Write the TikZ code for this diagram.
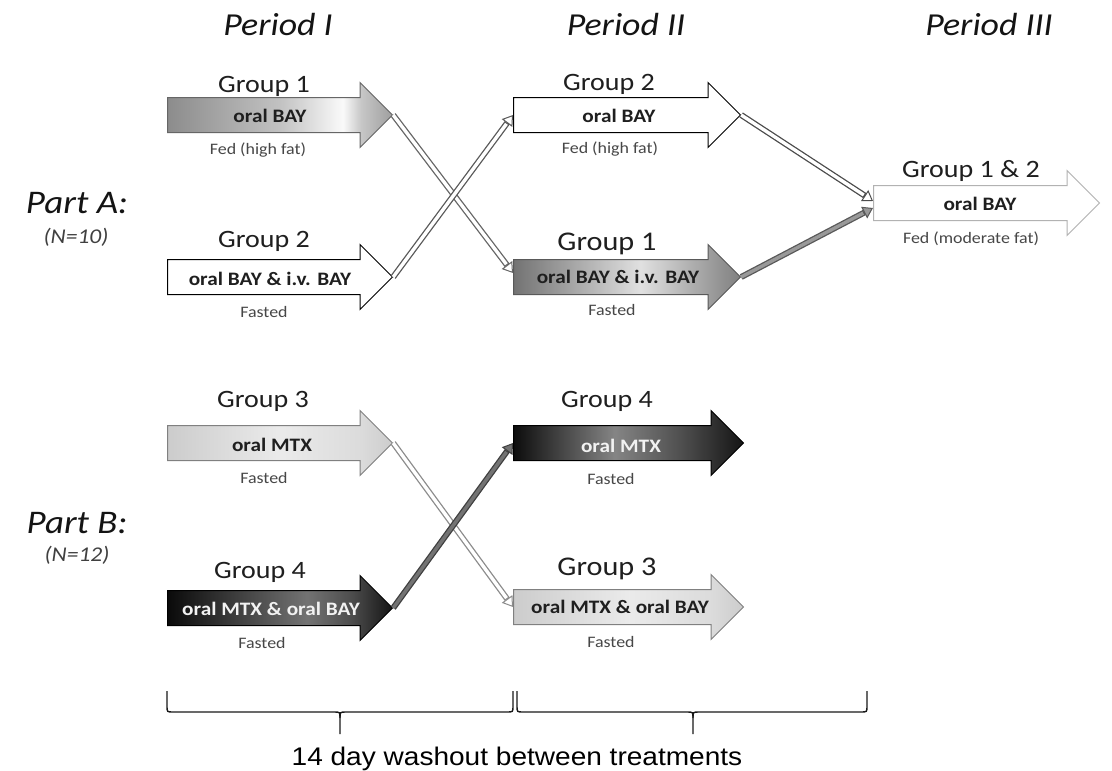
\documentclass[tikz,border=0pt]{standalone}
\usepackage{fontspec}
\usetikzlibrary{shapes.arrows,arrows.meta}
\newfontfamily\calfont{Carlito}[FakeStretch=1.12]
\newfontfamily\arialfont{Liberation Sans}[FakeStretch=1.1]

\pgfdeclarehorizontalshading{shAone}{100bp}{rgb(0bp)=(0.55,0.55,0.55); rgb(25bp)=(0.55,0.55,0.55); rgb(50bp)=(0.76,0.76,0.76); rgb(64bp)=(0.98,0.98,0.98); rgb(68bp)=(0.78,0.78,0.78); rgb(75bp)=(0.62,0.62,0.62); rgb(100bp)=(0.62,0.62,0.62)}
\pgfdeclarehorizontalshading{shBone}{100bp}{rgb(0bp)=(0.45,0.45,0.45); rgb(25bp)=(0.45,0.45,0.45); rgb(53bp)=(0.88,0.88,0.88); rgb(68bp)=(0.62,0.62,0.62); rgb(75bp)=(0.5,0.5,0.5); rgb(100bp)=(0.5,0.5,0.5)}
\pgfdeclarehorizontalshading{shLight}{100bp}{rgb(0bp)=(0.8,0.8,0.8); rgb(25bp)=(0.8,0.8,0.8); rgb(50bp)=(0.92,0.92,0.92); rgb(68bp)=(0.86,0.86,0.86); rgb(75bp)=(0.8,0.8,0.8); rgb(100bp)=(0.8,0.8,0.8)}
\pgfdeclarehorizontalshading{shDone}{100bp}{rgb(0bp)=(0.04,0.04,0.04); rgb(25bp)=(0.04,0.04,0.04); rgb(56bp)=(0.45,0.45,0.45); rgb(66bp)=(0.3,0.3,0.3); rgb(75bp)=(0.08,0.08,0.08); rgb(100bp)=(0.08,0.08,0.08)}
\pgfdeclarehorizontalshading{shDtwo}{100bp}{rgb(0bp)=(0.05,0.05,0.05); rgb(25bp)=(0.05,0.05,0.05); rgb(47bp)=(0.52,0.52,0.52); rgb(62bp)=(0.3,0.3,0.3); rgb(75bp)=(0.08,0.08,0.08); rgb(100bp)=(0.08,0.08,0.08)}

\newcommand\myconn[4]{%
  \draw[line width=6pt, draw=#4, -{Triangle[length=10pt,width=13pt,line width'=1pt,fill=#3,color=#4]}] (#1) -- (#2);
  \draw[line width=3.4pt, draw=#3, shorten >=11pt] (#1) -- (#2);
}

\tikzset{
  blk/.style={single arrow, single arrow head extend=15pt, inner xsep=0pt, inner ysep=17pt,
    minimum height=225pt, anchor=tail, line width=1pt},
  grp/.style={anchor=base, inner sep=0pt, text=black!88, font=\calfont\fontsize{25}{30}\selectfont},
  grpbig/.style={grp, font=\calfont\fontsize{27}{32}\selectfont},
  intx/.style={anchor=base, inner sep=0pt, text=black!88, font=\calfont\bfseries\fontsize{19}{22}\selectfont},
  subl/.style={anchor=base, inner sep=0pt, text=black!72, font=\calfont\fontsize{16}{19}\selectfont},
  per/.style={anchor=base, inner sep=0pt, text=black!92, font=\calfont\itshape\fontsize{32}{38}\selectfont},
  part/.style={anchor=base, inner sep=0pt, text=black!92, font=\calfont\itshape\fontsize{33}{38}\selectfont},
  nlab/.style={anchor=base, inner sep=0pt, text=black!75, font=\calfont\itshape\fontsize{21}{25}\selectfont},
  brc/.style={line width=1.4pt, draw=black!90},
}

\begin{document}
\begin{tikzpicture}[x=1pt,y=-1pt]
\fill[white] (0,0) rectangle (1112,771);
\useasboundingbox (0,0) rectangle (1112,771);

% period headings
\node[per] (p1) at (278,35) {Period I};
\node[per] (p2) at (626,35) {Period II};
\node[per] (p3) at (989,35) {Period III};

% part labels
\node[part] (pa) at (77,213) {Part A:};
\node[nlab] (na) at (76,243) {(N=10)};
\node[part] (pb) at (77,533) {Part B:};
\node[nlab] (nb) at (77,561) {(N=12)};

% block arrows, part A
\node[blk, draw=black!60, shade, shading=shAone] (g1a) at (167,115) {};
\node[blk, draw=black, fill=white] (g2a) at (167,277) {};
\node[blk, draw=black, fill=white, minimum height=227pt] (g2b) at (513,115) {};
\node[blk, draw=black!65, shade, shading=shBone, minimum height=227pt] (g1b) at (513,277) {};
\node[blk, draw=black!30, fill=white, minimum height=226pt] (g12c) at (873,203) {};

% block arrows, part B
\node[blk, draw=black!50, shade, shading=shLight] (g3a) at (167,443) {};
\node[blk, draw=black, shade, shading=shDone] (g4a) at (167,608) {};
\node[blk, draw=black, shade, shading=shDtwo, minimum height=230pt] (g4b) at (513,443) {};
\node[blk, draw=black!50, shade, shading=shLight, minimum height=230pt] (g3b) at (513,607) {};

% group labels
\node[grp] (lg1a) at (264,92) {Group 1};
\node[grp] (lg2a) at (264,247) {Group 2};
\node[grp] (lg2b) at (609,90) {Group 2};
\node[grpbig] (lg1b) at (607,250) {Group 1};
\node[grp] (lg12) at (971,177) {Group 1 \& 2};
\node[grp] (lg3a) at (263,407) {Group 3};
\node[grp] (lg4a) at (260,578) {Group 4};
\node[grp] (lg4b) at (607,407) {Group 4};
\node[grpbig] (lg3b) at (607,575) {Group 3};

% texts inside arrows
\node[intx] (t1a) at (270,122) {oral BAY};
\node[intx] (t2a) at (270,285) {oral BAY \& i.v. BAY};
\node[intx] (t2b) at (619,122) {oral BAY};
\node[intx] (t1b) at (618,283) {oral BAY \& i.v. BAY};
\node[intx] (t12) at (980,210) {oral BAY};
\node[intx] (t3a) at (272,451) {oral MTX};
\node[intx, text=white!95!black] (t4a) at (271,615) {oral MTX \& oral BAY};
\node[intx, text=white!95!black] (t4b) at (621,452) {oral MTX};
\node[intx] (t3b) at (620,613) {oral MTX \& oral BAY};

% sub labels
\node[subl] (s1a) at (258,154) {Fed (high fat)};
\node[subl] (s2a) at (264,317) {Fasted};
\node[subl] (s2b) at (610,153) {Fed (high fat)};
\node[subl] (s1b) at (612,315) {Fasted};
\node[subl] (s12) at (971,243) {Fed (moderate fat)};
\node[subl] (s3a) at (264,483) {Fasted};
\node[subl] (s4a) at (262,648) {Fasted};
\node[subl] (s4b) at (611,484) {Fasted};
\node[subl] (s3b) at (611,647) {Fasted};

% connectors
\myconn{g1a.tip}{[yshift=4pt]g1b.tail}{white}{black!60}
\myconn{g2a.tip}{g2b.tail}{white}{black!65}
\myconn{g2b.tip}{[yshift=2pt]g12c.tail}{white}{black!70}
\myconn{g1b.tip}{[yshift=-5pt]g12c.tail}{black!40}{black!65}
\myconn{g3a.tip}{g3b.tail}{white}{black!45}
\myconn{g4a.tip}{g4b.tail}{black!55}{black!75}

% braces
\draw[brc] (167,691) -- (167,706) .. controls (167,712) .. (173,712) -- (334,712) .. controls (340,712) .. (340,718) -- (340,734);
\draw[brc] (340,718) .. controls (340,712) .. (346,712) -- (507,712) .. controls (513,712) .. (513,706) -- (513,691);
\draw[brc] (517,691) -- (517,706) .. controls (517,712) .. (523,712) -- (687,712) .. controls (693,712) .. (693,718) -- (693,734);
\draw[brc] (693,718) .. controls (693,712) .. (699,712) -- (861,712) .. controls (867,712) .. (867,706) -- (867,691);

\node[anchor=base, inner sep=0pt, text=black, font=\arialfont\fontsize{25.5}{30}\selectfont] (wash) at (517,765) {14 day washout between treatments};
\end{tikzpicture}
\end{document}
